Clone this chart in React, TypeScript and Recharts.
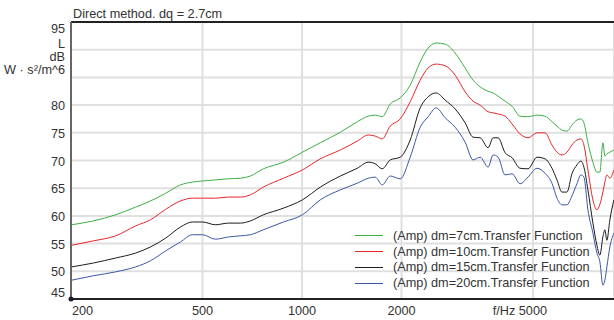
import React from "react";
import {
  LineChart,
  Line,
  XAxis,
  YAxis,
  CartesianGrid,
  ReferenceLine,
  ReferenceDot,
  Legend,
} from "recharts";

const freqs = [
  201, 234, 273, 314, 348, 387, 429, 466, 500, 547, 599, 651, 698, 764, 879,
  1003, 1136, 1306, 1470, 1587, 1666, 1749, 1849, 1982, 2125, 2278, 2408, 2546,
  2711, 2907, 3116, 3294, 3459, 3657, 3786, 3920, 4116, 4321, 4568, 4829, 5141,
  5435, 5706, 5908, 6117, 6334, 6557, 6789, 6981, 7128, 7329, 7589, 7803, 7967,
  8135, 8249, 8365, 8541, 8782,
];

const ampDm7 = [
  58.4, 59.1, 60.2, 61.6, 62.7, 64.1, 65.6, 66.1, 66.3, 66.5,
  66.7, 66.8, 67.2, 68.5, 69.7, 71.5, 73.2, 75.1, 77.0, 78.0,
  78.2, 77.9, 80.2, 81.3, 83.6, 87.8, 90.3, 91.2, 91.0, 89.4,
  86.7, 84.5, 83.3, 82.5, 82.2, 81.6, 80.7, 79.8, 78.0, 77.9,
  78.2, 78.0, 77.0, 76.2, 75.5, 75.3, 76.4, 77.3, 77.5, 76.8,
  73.2, 69.7, 67.9, 67.9, 73.2, 70.8, 71.2, 71.5, 71.9,
];

const ampDm10 = [
  54.7, 55.5, 56.4, 58.2, 59.3, 61.2, 62.7, 63.2, 63.2, 63.2,
  63.4, 63.4, 63.8, 65.2, 66.8, 68.3, 70.3, 71.9, 73.5, 74.6,
  74.4, 73.9, 76.2, 77.5, 80.6, 84.5, 86.7, 87.4, 87.1, 85.4,
  82.4, 80.7, 80.0, 78.8, 78.6, 78.4, 78.0, 76.6, 74.8, 74.1,
  75.0, 75.0, 72.8, 71.5, 71.0, 71.5, 72.8, 73.7, 73.9, 72.8,
  68.3, 62.9, 61.1, 62.1, 64.3, 66.1, 67.4, 66.8, 68.3,
];

const ampDm15 = [
  50.8, 51.5, 52.4, 53.3, 54.4, 56.0, 58.0, 58.9, 58.9, 58.4,
  58.7, 58.7, 59.1, 60.2, 61.4, 62.9, 65.2, 67.2, 68.6, 69.7,
  69.4, 68.5, 70.1, 70.6, 73.7, 79.5, 81.5, 82.2, 80.9, 79.3,
  76.8, 74.2, 74.1, 72.3, 74.1, 74.1, 71.4, 70.5, 68.6, 68.5,
  70.6, 70.3, 68.6, 66.5, 64.3, 64.3, 67.6, 69.2, 69.9, 68.8,
  64.7, 58.7, 54.7, 52.9, 56.2, 57.5, 55.6, 59.3, 62.9,
];

const ampDm20 = [
  48.4, 49.2, 49.9, 50.8, 51.9, 53.7, 55.3, 56.6, 56.6, 55.8,
  56.2, 56.4, 56.6, 57.5, 58.9, 60.2, 62.9, 64.7, 65.9, 66.8,
  67.0, 65.6, 67.2, 66.7, 70.6, 76.0, 77.9, 79.5, 77.7, 76.0,
  73.3, 70.1, 70.6, 68.8, 71.0, 70.6, 67.4, 67.6, 65.8, 67.0,
  68.6, 67.7, 65.9, 63.2, 62.0, 62.0, 63.6, 65.8, 67.4, 67.0,
  61.1, 56.9, 53.3, 51.7, 47.5, 48.4, 50.8, 54.4, 56.9,
];

const xTicks = [200, 500, 1000, 2000, 5000];
const yTicks = [45, 50, 55, 60, 65, 70, 75, 80, 85, 90, 95];
const yHiddenLabels = [85, 90];
const unitLines = ["L", "dB", "W · s²/m^6"];
const title = "Direct method. dq = 2.7cm";

const seriesDefs = [
  { key: "dm7", name: "(Amp) dm=7cm.Transfer Function", color: "#3cb043", values: ampDm7 },
  { key: "dm10", name: "(Amp) dm=10cm.Transfer Function", color: "#e8262b", values: ampDm10 },
  { key: "dm15", name: "(Amp) dm=15cm.Transfer Function", color: "#1c1c1c", values: ampDm15 },
  { key: "dm20", name: "(Amp) dm=20cm.Transfer Function", color: "#3b57a8", values: ampDm20 },
];
const seriesOrder = seriesDefs.map((s) => s.name);

const data = freqs.map((f, i) => {
  const row: Record<string, number> = { f };
  seriesDefs.forEach((s) => {
    row[s.key] = s.values[i];
  });
  return row;
});

const FONT = "'Liberation Sans', Arial, sans-serif";
const FS = 12.7;

function YTick(props: any) {
  const { x, y, payload } = props;
  const v = payload.value;
  if (yHiddenLabels.includes(v)) return <g />;
  let dy = 5;
  if (v === 95) dy = 10.7;
  if (v === 45) dy = -2.3;
  return (
    <text x={x} y={y + dy} textAnchor="end" fill="#333" fontSize={FS} fontFamily={FONT}>
      {v}
    </text>
  );
}

function XTick(props: any) {
  const { x, y, payload, index } = props;
  const v = payload.value;
  let anchor: "start" | "middle" | "end" = "middle";
  let tx = x;
  let label = String(v);
  if (index === 0) {
    anchor = "start";
    tx = x + 1;
  }
  if (v === 5000) {
    label = "f/Hz 5000";
    anchor = "end";
    tx = x + 14;
  }
  return (
    <text x={tx} y={y + 7.5} textAnchor={anchor} fill="#333" fontSize={FS} fontFamily={FONT}>
      {label}
    </text>
  );
}

function LegendContent(props: any) {
  const payload = [...(props.payload || [])].sort(
    (a: any, b: any) => seriesOrder.indexOf(a.value) - seriesOrder.indexOf(b.value)
  );
  return (
    <div style={{ fontFamily: FONT, fontSize: FS, color: "#333" }}>
      {payload.map((p: any) => (
        <div
          key={p.value}
          style={{ height: 15.75, display: "flex", alignItems: "center", whiteSpace: "nowrap" }}
        >
          <span
            style={{
              display: "inline-block",
              width: 28,
              height: 0,
              borderTop: `1px solid ${p.color}`,
              marginRight: 10,
            }}
          />
          <span>{p.value}</span>
        </div>
      ))}
    </div>
  );
}

export default function App() {
  return (
    <div style={{ position: "absolute", left: 0, top: 0, width: 614, height: 320, fontFamily: FONT, background: "#fff" }}>
      <LineChart
        width={614}
        height={320}
        data={data}
        margin={{ top: 22, right: 0, bottom: 0, left: 0 }}
      >
        <CartesianGrid stroke="#e0e0e0" strokeWidth={2} />
        <XAxis
          dataKey="f"
          type="number"
          scale="log"
          domain={[200, 8790]}
          ticks={xTicks}
          allowDataOverflow
          height={21}
          tickSize={6}
          tickMargin={2}
          tickLine={false}
          axisLine={{ stroke: "#222", strokeWidth: 2 }}
          tick={<XTick />}
          interval={0}
        />
        <YAxis
          type="number"
          domain={[45, 95]}
          ticks={yTicks}
          allowDataOverflow
          width={71}
          tickSize={6}
          tickMargin={0}
          tickLine={false}
          axisLine={{ stroke: "#666", strokeWidth: 2 }}
          tick={<YTick />}
          interval={0}
        />
        <ReferenceLine y={95} stroke="#222" strokeWidth={2} />
        {seriesDefs.map((s) => (
          <Line
            key={s.key}
            dataKey={s.key}
            name={s.name}
            stroke={s.color}
            strokeWidth={1}
            type="monotone"
            dot={false}
            isAnimationActive={false}
          />
        ))}
        <ReferenceDot x={200} y={45} r={2.5} fill="#1a1a2e" stroke="none" />
        <Legend
          layout="vertical"
          align="center"
          verticalAlign="middle"
          content={<LegendContent />}
          wrapperStyle={{ position: "absolute", left: 355, top: 228, width: 259, bottom: "auto", right: "auto", margin: 0 }}
        />
      </LineChart>
      <svg
        width={614}
        height={320}
        style={{ position: "absolute", left: 0, top: 0, pointerEvents: "none" }}
      >
        <text x={73} y={17.5} fontSize={FS} fill="#333" fontFamily={FONT}>
          {title}
        </text>
        {unitLines.map((u, i) => (
          <text
            key={u}
            x={65}
            y={47.7 + i * 13.2}
            textAnchor="end"
            fontSize={FS}
            fill="#333"
            fontFamily={FONT}
          >
            {u}
          </text>
        ))}
      </svg>
    </div>
  );
}
